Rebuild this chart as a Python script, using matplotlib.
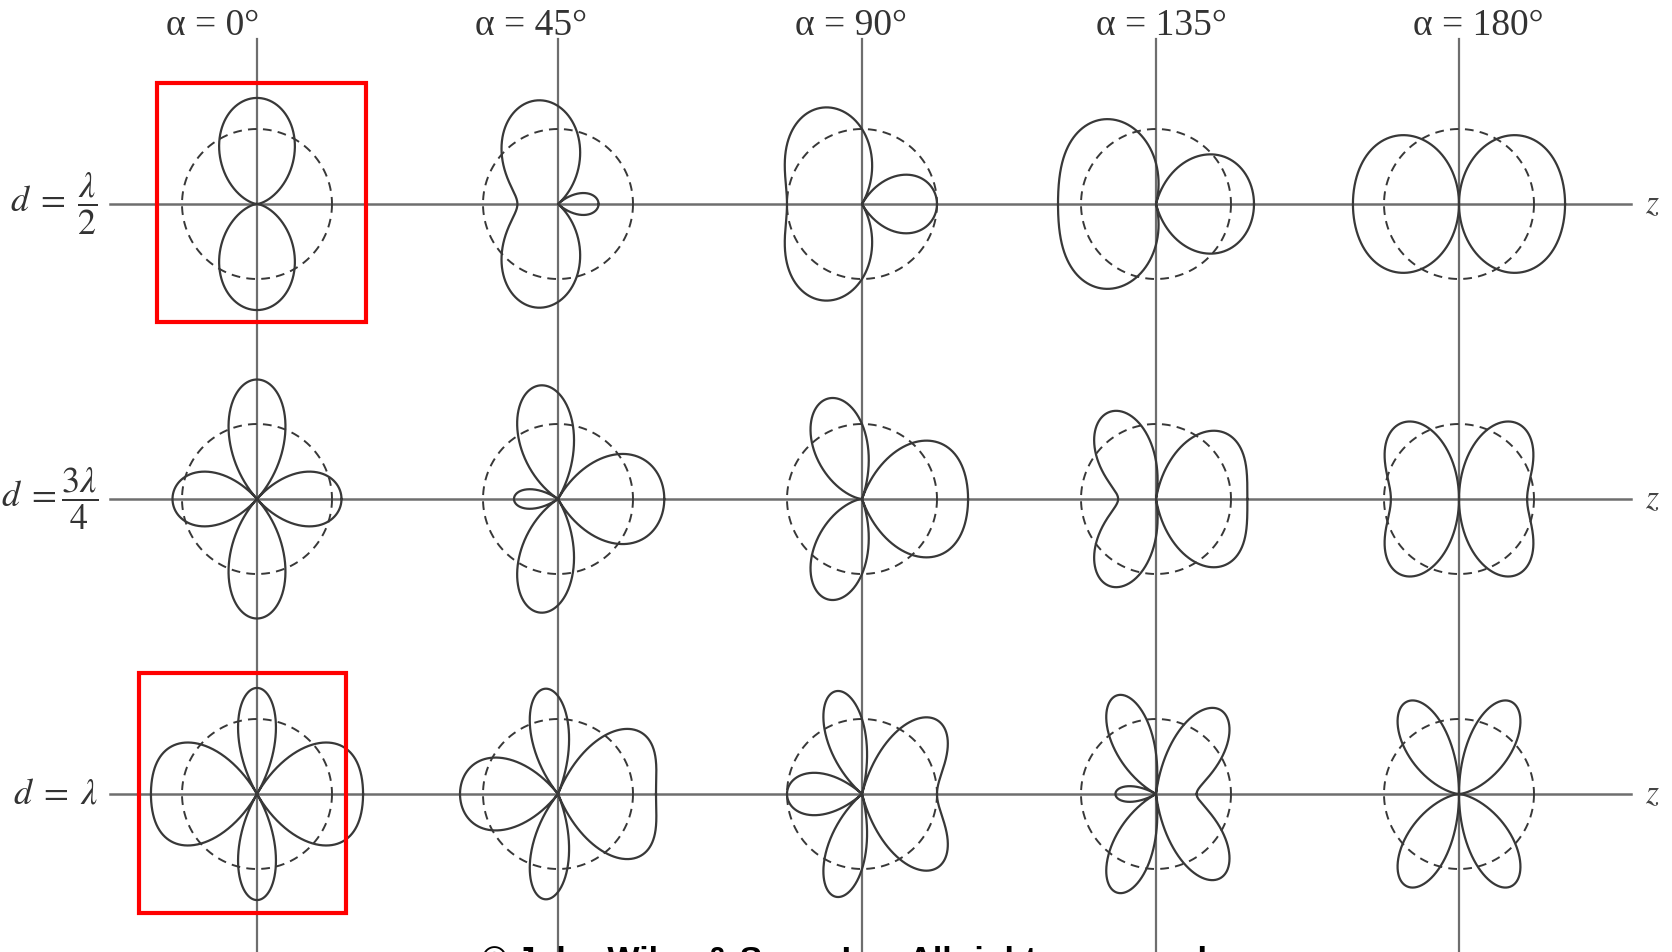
import numpy as np
import matplotlib.pyplot as plt
from matplotlib.patches import Rectangle

plt.rcParams['mathtext.fontset'] = 'stix'

# element spacing (in wavelengths) per row, progressive phase alpha per column
spacings = [0.5, 0.75, 1.0]
phases = [0, 45, 90, 135, 180]
row_labels = [r'$d\;=\;\dfrac{\lambda}{2}$', r'$d\;=\dfrac{3\lambda}{4}$', r'$d\;=\;\lambda$']
col_labels = ['α = 0°', 'α = 45°', 'α = 90°', 'α = 135°', 'α = 180°']

# layout (pixel positions on the 1672x952 canvas)
W, H = 1672, 952
col_x = [257, 558, 862, 1156, 1459]
row_y = [204, 499, 794]
title_x = [213, 531, 851, 1161, 1478]
R = 75  # radius of the isotropic reference circle


def array_pattern(d, alpha_deg, theta):
    """Two-element array field, normalised to an isotropic source of equal power."""
    kd = 2 * np.pi * d
    a = np.radians(alpha_deg)
    af = 2 * np.abs(np.cos((kd * np.cos(theta) + a) / 2))
    mean_power = 2 * (1 + np.cos(a) * np.sin(kd) / kd)
    return af / np.sqrt(mean_power)


fig = plt.figure(figsize=(W / 100, H / 100), dpi=100)
ax = fig.add_axes([0, 0, 1, 1])
ax.set_xlim(0, W)
ax.set_ylim(H, 0)
ax.axis('off')

axis_col = '#6e6e6e'
line_col = '#383838'

# z-axes and vertical axes
for y in row_y:
    ax.plot([110, 1631], [y, y], color=axis_col, lw=1.8, zorder=1)
    ax.text(1652, y, r'$z$', fontsize=24, ha='center', va='center', color='#444444')
for x in col_x:
    ax.plot([x, x], [39, H + 5], color=axis_col, lw=1.6, zorder=1)

theta = np.linspace(0, 2 * np.pi, 1441)
phi = np.linspace(0, 2 * np.pi, 361)
for i, d in enumerate(spacings):
    for j, alpha in enumerate(phases):
        cx, cy = col_x[j], row_y[i]
        ax.plot(cx + R * np.cos(phi), cy + R * np.sin(phi), color=line_col,
                lw=1.4, dashes=(4.5, 3.2), zorder=2)
        r = R * array_pattern(d, alpha, theta)
        ax.plot(cx + r * np.cos(theta), cy - r * np.sin(theta), color=line_col,
                lw=1.6, zorder=3)

for x, lab in zip(title_x, col_labels):
    ax.text(x, 35, lab, fontsize=27, ha='center', va='baseline', color='#333333',
            family=['Liberation Serif', 'DejaVu Serif'])

for y, lab in zip(row_y, row_labels):
    ax.text(98, y, lab, fontsize=26, ha='right', va='center', color='#333333')

# highlight boxes
ax.add_patch(Rectangle((157, 83), 209, 239, fill=False, ec='#ff0000', lw=3, zorder=4))
ax.add_patch(Rectangle((139, 673), 207, 240, fill=False, ec='#ff0000', lw=3, zorder=4))

ax.text(849, 970, '© John Wiley & Sons, Inc. All rights reserved.', fontsize=24.5,
        fontweight='bold', ha='center', va='baseline', color='black',
        family=['Liberation Sans', 'DejaVu Sans'])

fig.savefig('out.png', dpi=100)
